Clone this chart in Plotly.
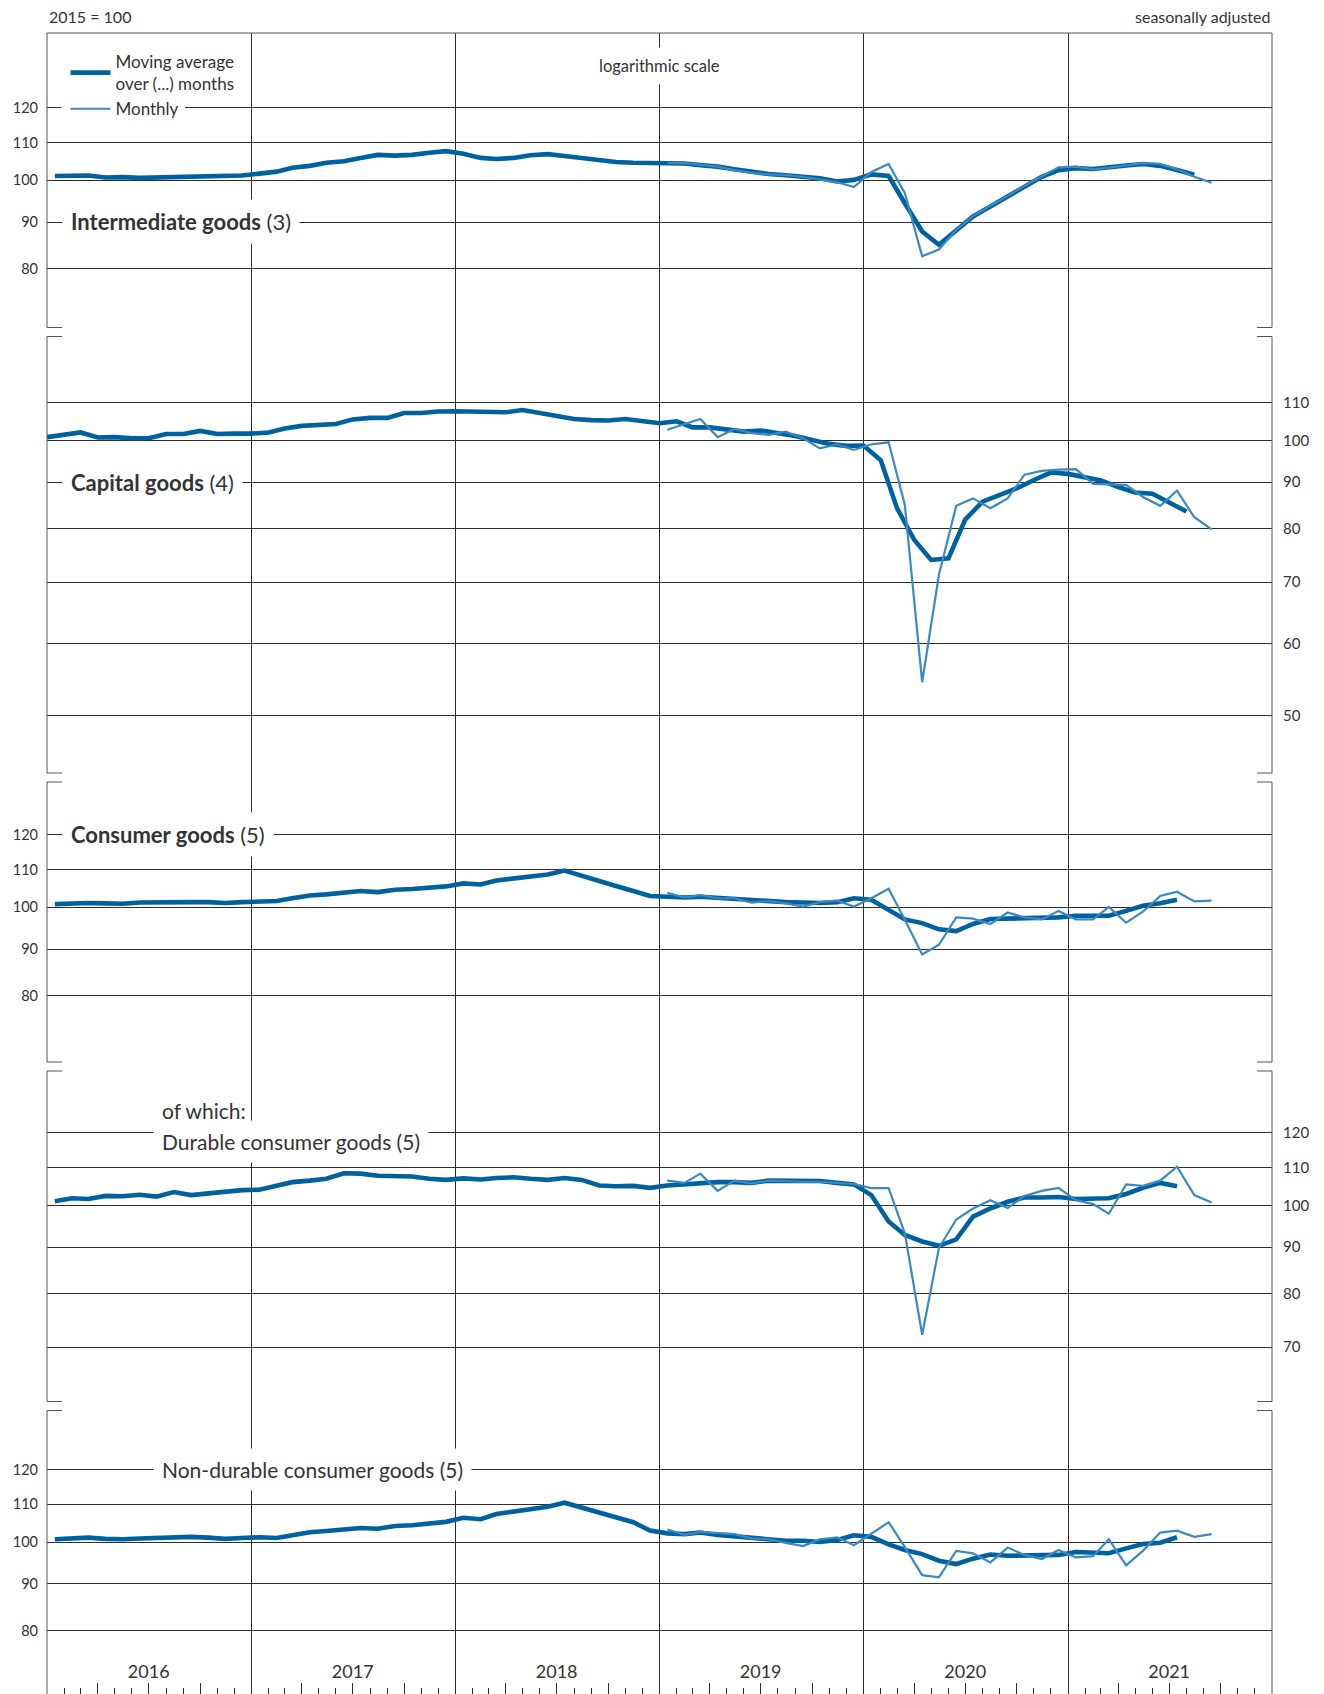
import numpy as np
import pandas as pd
import plotly.graph_objects as go

# ---------------- data (index, 2015 = 100) ----------------
# Moving averages: Intermediate (3-month, mid-month), Capital (4-month, month start),
# Consumer / Durable / Non-durable (5-month, mid-month)
inter_ma = [101.1, 101.1, 101.2, 100.7, 100.8, 100.6, 100.7, 100.8, 100.9, 101.0, 101.0, 101.2,
            101.7, 102.2, 103.2, 103.7, 104.5, 104.9, 105.8, 106.6, 106.4, 106.6, 107.2, 107.6,
            106.9, 105.8, 105.5, 105.8, 106.5, 106.8, 106.3, 105.7, 105.2, 104.7, 104.5, 104.5,
            104.4, 104.3, 103.9, 103.5, 102.8, 102.1, 101.6, 101.3, 100.9, 100.5, 99.7, 100.1,
            101.5, 101.1, 94.4, 87.9, 85.0, 88.1, 91.3, 93.6, 96.0, 98.4, 100.9, 102.6,
            103.1, 102.9, 103.2, 103.8, 104.2, 103.7, 102.6, 101.4]
inter_m = [104.5, 104.4, 104.0, 103.5, 102.6, 101.9, 101.5, 101.3, 100.9, 100.3, 99.5, 98.3,
           102.1, 104.2, 96.8, 82.6, 84.0, 88.3, 91.4, 93.8, 96.1, 98.6, 100.9, 103.3,
           103.5, 102.8, 103.2, 103.9, 104.4, 104.2, 102.8, 100.9, 99.4]

capital_ma = [100.8, 101.3, 102.0, 100.7, 100.8, 100.5, 100.5, 101.6, 101.6, 102.4, 101.6, 101.7,
              101.7, 102.0, 103.0, 103.7, 103.9, 104.2, 105.4, 105.8, 105.8, 107.1, 107.1, 107.5,
              107.6, 107.5, 107.4, 107.3, 107.9, 107.0, 106.3, 105.5, 105.2, 105.1, 105.5, 104.9,
              104.4, 104.9, 103.3, 103.3, 102.9, 102.2, 102.5, 101.8, 101.1, 100.1, 99.1, 98.6,
              98.7, 95.1, 84.3, 77.8, 74.0, 74.3, 81.9, 85.7, 87.2, 88.6, 90.5, 92.2,
              91.9, 91.1, 90.4, 88.9, 87.7, 87.4, 85.5, 83.6]
capital_m = [102.7, 104.2, 105.5, 100.8, 102.9, 101.8, 101.4, 102.2, 100.5, 98.0, 99.0, 97.6,
             99.0, 99.5, 85.0, 54.4, 71.3, 84.8, 86.4, 84.3, 86.4, 91.7, 92.6, 92.9,
             93.0, 89.6, 89.5, 89.4, 86.7, 84.8, 88.1, 82.4, 79.9]

consumer_ma = [100.8, 101.0, 101.1, 101.0, 100.9, 101.2, 101.3, 101.3, 101.3, 101.3, 101.1, 101.3,
               101.5, 101.6, 102.3, 103.0, 103.3, 103.7, 104.2, 103.9, 104.5, 104.7, 105.1, 105.4,
               106.2, 105.9, 107.0, 107.5, 108.0, 108.6, 109.7, 108.2, 106.7, 105.5, 104.2, 102.9,
               102.7, 102.5, 102.7, 102.4, 102.2, 101.8, 101.4, 101.3, 101.2, 101.1, 101.3, 102.3,
               101.9, 99.2, 97.0, 96.1, 94.6, 94.2, 95.9, 97.1, 97.2, 97.4, 97.5, 97.5,
               97.9, 97.9, 97.9, 99.1, 100.4, 101.0, 101.9]
consumer_m = [103.7, 102.5, 103.1, 102.3, 102.3, 101.2, 101.6, 101.0, 100.2, 101.3, 101.7, 100.2,
              102.3, 104.8, 96.9, 88.8, 91.0, 97.5, 97.2, 95.9, 98.7, 97.5, 97.0, 99.1,
              97.0, 97.0, 100.1, 96.2, 98.9, 102.9, 104.0, 101.5, 101.7]

durable_ma = [101.0, 101.8, 101.6, 102.4, 102.3, 102.7, 102.2, 103.4, 102.6, 103.0, 103.2, 103.9,
              104.0, 105.0, 106.0, 106.4, 106.9, 108.4, 108.3, 107.7, 107.7, 107.5, 106.9, 106.6,
              107.0, 106.7, 107.1, 107.3, 106.9, 106.6, 107.1, 106.6, 105.1, 104.9, 105.0, 104.5,
              105.1, 105.5, 105.9, 106.0, 106.0, 105.8, 106.4, 106.4, 106.4, 106.3, 105.8, 105.4,
              102.6, 96.0, 92.8, 91.3, 90.3, 91.8, 97.2, 99.2, 100.9, 102.0, 102.0, 102.1,
              101.6, 101.8, 101.8, 102.9, 104.5, 105.8, 104.9]
durable_m = [106.4, 105.8, 108.3, 103.7, 106.4, 105.7, 106.4, 106.2, 106.1, 106.1, 105.7, 105.5,
             104.4, 104.4, 93.2, 72.2, 89.8, 96.5, 99.2, 101.3, 99.3, 102.4, 103.7, 104.5,
             101.3, 100.3, 97.9, 105.4, 105.0, 106.4, 110.2, 102.6, 100.7]

nondur_ma = [100.7, 100.9, 101.1, 100.8, 100.7, 100.9, 101.1, 101.1, 101.3, 101.1, 100.8, 101.0,
             101.2, 101.0, 101.8, 102.5, 102.8, 103.1, 103.6, 103.4, 104.1, 104.3, 104.8, 105.2,
             106.3, 105.9, 107.3, 107.9, 108.4, 109.3, 110.4, 109.0, 107.6, 106.4, 105.1, 102.9,
             102.2, 102.0, 102.4, 101.8, 101.5, 100.9, 100.7, 100.3, 100.3, 100.0, 100.5, 101.7,
             101.3, 99.4, 98.0, 97.0, 95.4, 94.6, 95.9, 96.9, 96.6, 96.7, 96.9, 96.8,
             97.5, 97.3, 97.2, 98.4, 99.5, 99.8, 101.2]
nondur_m = [103.2, 101.8, 102.6, 102.2, 102.0, 100.9, 100.7, 99.8, 99.0, 100.7, 101.2, 99.2,
            102.0, 105.1, 98.7, 92.0, 91.5, 97.8, 97.2, 95.0, 98.6, 96.8, 95.8, 98.0,
            96.2, 96.5, 100.7, 94.3, 97.8, 102.4, 102.9, 101.3, 102.0]

year_labels = ["2016", "2017", "2018", "2019", "2020", "2021"]
panel_titles = ["<b>Intermediate goods</b> (3)", "<b>Capital goods</b> (4)",
                "<b>Consumer goods</b> (5)", "Durable consumer goods (5)",
                "Non-durable consumer goods (5)"]
ticks_p1 = [80, 90, 100, 110, 120]
ticks_p2 = [50, 60, 70, 80, 90, 100, 110]
ticks_p3 = [80, 90, 100, 110, 120]
ticks_p4 = [70, 80, 90, 100, 110, 120]
ticks_p5 = [80, 90, 100, 110, 120]

# ---------------- dates ----------------
def mid_month(start, n):
    return pd.date_range(start, periods=n, freq="MS") + pd.Timedelta(days=14)

d_ma3 = mid_month("2016-01-01", len(inter_ma))
d_ma4 = pd.date_range("2016-01-01", periods=len(capital_ma), freq="MS")
d_ma5 = mid_month("2016-01-01", len(consumer_ma))
d_m = mid_month("2019-01-01", len(inter_m))

# ---------------- geometry / style ----------------
W, H = 1324, 1694
ML, MR, MT, MB = 47, 52, 33, 0
PW = W - ML - MR
PH = H - MT - MB
PX_DEC = 915.0
FONT = "Lato, 'Open Sans', sans-serif"
TXT = "#333333"
GRID = "#2e2e2e"
BORDER = "#555555"
MA_COLOR = "#0061a1"
M_COLOR = "#3a89c4"

def fy(px):
    return (H - MB - px) / PH

def fx(px):
    return (px - ML) / PW

panel_px = [(33, 331.5), (331.5, 777.5), (777.5, 1066.5), (1066.5, 1406), (1406, 1694)]
anchor_px = [180.3, 440.3, 907.3, 1205.3, 1542.0]   # pixel row of the 100 line
sides = ["left", "right", "left", "right", "left"]
tickvals_all = [ticks_p1, ticks_p2, ticks_p3, ticks_p4, ticks_p5]

fig = go.Figure()

series = [(d_ma3, inter_ma, inter_m), (d_ma4, capital_ma, capital_m),
          (d_ma5, consumer_ma, consumer_m), (d_ma5, durable_ma, durable_m),
          (d_ma5, nondur_ma, nondur_m)]

for i, (dma, ma, mo) in enumerate(series):
    ya = "y" if i == 0 else f"y{i+1}"
    fig.add_trace(go.Scatter(x=dma, y=ma, mode="lines", xaxis="x", yaxis=ya,
                             line=dict(color=MA_COLOR, width=4.6),
                             name="Moving average<br>over (...) months",
                             showlegend=(i == 0), hoverinfo="skip"))
    fig.add_trace(go.Scatter(x=d_m, y=mo, mode="lines", xaxis="x", yaxis=ya,
                             line=dict(color=M_COLOR, width=2.2),
                             name="Monthly", showlegend=(i == 0), hoverinfo="skip"))

# helper trace for the tick axis
fig.add_trace(go.Scatter(x=[], y=[], xaxis="x6", yaxis="y5", showlegend=False,
                         hoverinfo="skip"))

layout = dict(
    width=W, height=H,
    margin=dict(l=ML, r=MR, t=MT, b=MB, pad=0),
    paper_bgcolor="white", plot_bgcolor="white",
    font=dict(family=FONT, color=TXT, size=15),
    showlegend=True,
    legend=dict(x=fx(65.5), xanchor="left", y=fy(44), yanchor="top",
                bgcolor="rgba(0,0,0,0)", borderwidth=0,
                font=dict(size=17, family=FONT, color=TXT),
                itemwidth=40, tracegroupgap=0, traceorder="normal"),
)

year_starts = pd.date_range("2017-01-01", "2021-01-01", freq="YS")
layout["xaxis"] = dict(type="date", range=["2016-01-01", "2022-01-01"], domain=[0, 1],
                       anchor="y5", tickmode="array", tickvals=list(year_starts),
                       showticklabels=False, ticks="", showgrid=True, gridcolor=GRID,
                       gridwidth=1, zeroline=False, showline=False)

q_ticks = pd.date_range("2016-01-01", "2022-01-01", freq="QS")
q_text = []
for d in q_ticks:
    if d.month == 7 and str(d.year) in year_labels:
        q_text.append(str(d.year))
    else:
        q_text.append("")
layout["xaxis6"] = dict(type="date", range=["2016-01-01", "2022-01-01"], overlaying="x",
                        anchor="y5", tickmode="array", tickvals=list(q_ticks), ticktext=q_text,
                        ticks="inside", ticklen=11, tickwidth=1, tickcolor=GRID,
                        ticklabelposition="inside", ticklabelstandoff=2,
                        tickfont=dict(size=18, color=TXT, family=FONT),
                        minor=dict(dtick="M1", tick0="2016-01-01", ticks="inside", ticklen=6,
                                   tickwidth=1, tickcolor=GRID, showgrid=False),
                        showgrid=False, zeroline=False, showline=False)

for i in range(5):
    top, bot = panel_px[i]
    p0 = anchor_px[i]
    lo = 2 - (bot - p0) / PX_DEC
    hi = 2 + (p0 - top) / PX_DEC
    key = "yaxis" if i == 0 else f"yaxis{i+1}"
    layout[key] = dict(type="log", range=[lo, hi], domain=[fy(bot), fy(top)],
                       anchor="x", side=sides[i], tickmode="array",
                       tickvals=tickvals_all[i], ticktext=[str(v) for v in tickvals_all[i]],
                       ticks="", ticklabelstandoff=(8 if sides[i] == "left" else 10),
                       tickfont=dict(size=(14.5 if sides[i] == "left" else 15),
                                     color=TXT, family=FONT),
                       showgrid=True, gridcolor=GRID, gridwidth=1,
                       zeroline=False, showline=False)

# ---------------- frame with panel breaks ----------------
shapes = []
line_style = dict(color=BORDER, width=1)
shapes.append(dict(type="line", xref="paper", yref="paper", x0=0, x1=1, y0=1, y1=1,
                   line=line_style))
segments = [(33, 327.5), (336.5, 773), (782, 1062), (1071, 1401.5), (1410.5, 1694)]
tick = 15 / PW
for k, (s0, s1) in enumerate(segments):
    for xs, dirn in ((0, 1), (1, -1)):
        shapes.append(dict(type="line", xref="paper", yref="paper", x0=xs, x1=xs,
                           y0=fy(s0), y1=fy(s1), line=line_style))
        if k > 0:
            shapes.append(dict(type="line", xref="paper", yref="paper", x0=xs,
                               x1=xs + dirn * tick, y0=fy(s0), y1=fy(s0), line=line_style))
        if k < len(segments) - 1:
            shapes.append(dict(type="line", xref="paper", yref="paper", x0=xs,
                               x1=xs + dirn * tick, y0=fy(s1), y1=fy(s1), line=line_style))
# white knock-out behind the legend rows (gridline gap as in the original)
shapes.append(dict(type="rect", xref="paper", yref="paper", layer="above",
                   x0=fx(61.5), x1=fx(185), y0=fy(97), y1=fy(119),
                   fillcolor="white", line=dict(width=0)))
layout["shapes"] = shapes

# ---------------- texts ----------------
ann = []
PAD = 8
def label(text, left_px, y_px, size=21, bg=True):
    ann.append(dict(text=text, xref="paper", yref="paper",
                    x=fx(left_px - PAD), y=fy(y_px), xanchor="left", yanchor="middle",
                    showarrow=False, font=dict(size=size, color=TXT, family=FONT),
                    bgcolor="white" if bg else "rgba(0,0,0,0)", borderpad=PAD))

label(panel_titles[0], 70, 222, size=22)
label(panel_titles[1], 70, 482.5, size=22)
label(panel_titles[2], 70, 835, size=22)
label("of which:", 161, 1110, bg=False)
label(panel_titles[3], 161, 1141.5)
label(panel_titles[4], 161, 1469.5)

ann.append(dict(text="logarithmic scale", xref="x", yref="paper", x="2019-01-01",
                y=fy(66), xanchor="center", yanchor="middle", showarrow=False,
                font=dict(size=16.5, color=TXT, family=FONT), bgcolor="white", borderpad=8))
ann.append(dict(text="2015 = 100", xref="paper", yref="paper", x=0, y=fy(17),
                xanchor="left", yanchor="middle", showarrow=False,
                font=dict(size=16, color=TXT, family=FONT)))
ann.append(dict(text="seasonally adjusted", xref="paper", yref="paper", x=1, y=fy(17),
                xanchor="right", yanchor="middle", showarrow=False,
                font=dict(size=16, color=TXT, family=FONT)))
layout["annotations"] = ann

fig.update_layout(**layout)

fig.write_html("out.html", config={"displayModeBar": False},
               post_script="document.body.style.margin='0';document.body.style.overflow='hidden';")
